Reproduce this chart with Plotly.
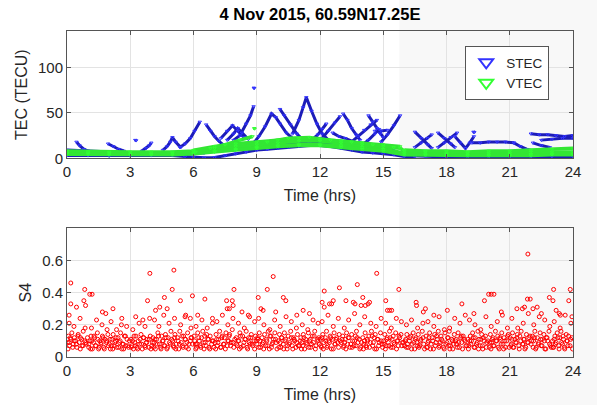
import plotly.graph_objects as go
from plotly.subplots import make_subplots

TITLE = "4 Nov 2015, 60.59N17.25E"
X_TICKS = [0, 3, 6, 9, 12, 15, 18, 21, 24]
TEC_TICKS = [0, 50, 100]
S4_TICKS = [0, 0.2, 0.4, 0.6]

# STEC passes (time in hrs, TECU)
STEC_ARCS = [
    [(0.0, 9), (0.5, 8.5), (1.0, 8), (1.5, 7), (2.0, 6.5), (2.5, 6), (3.0, 6), (3.5, 5.5), (4.0, 5.5), (4.5, 6), (5.0, 6.5), (5.5, 7)],
    [(0.0, 3), (1.0, 3), (2.0, 2.5), (3.0, 2.5), (4.0, 3), (5.0, 3), (5.6, 2), (6.0, 1), (6.5, 0.5), (7.0, 1), (7.5, 3), (8.0, 5), (8.5, 7), (9.0, 9), (9.5, 10)],
    [(6.0, 5), (6.5, 6), (7.0, 8), (7.5, 10), (8.0, 11), (8.5, 12), (9.0, 13), (9.5, 14), (10.0, 15), (10.5, 16), (11.0, 16), (11.5, 17), (12.0, 17), (12.5, 15), (13.0, 13)],
    [(9.5, 10), (10.0, 11), (10.5, 12), (11.0, 13), (11.5, 14), (12.0, 14), (12.5, 13), (13.0, 11), (13.5, 9), (14.0, 7), (14.5, 6), (15.0, 5), (15.5, 4), (16.0, 2), (16.5, 1.5)],
    [(12.5, 18), (13.0, 17), (13.5, 15), (14.0, 13), (14.5, 12), (15.0, 11), (15.5, 10)],
    [(16.0, 3), (17.0, 2), (18.0, 1.5), (19.0, 1.5), (20.0, 1.5), (21.0, 1.5), (22.0, 1.5), (23.0, 2), (24.0, 2)],
    [(16.0, 6), (17.0, 5), (18.0, 4), (19.0, 4), (20.0, 4), (21.0, 3.5), (22.0, 4), (23.0, 5), (24.0, 5)],
    [(0.45, 18), (0.6, 14), (0.8, 10), (1.0, 8)],
    [(1.95, 16), (2.2, 13), (2.45, 10), (2.7, 8)],
    [(3.24, 20), (3.28, 19.5)],
    [(3.55, 8), (3.75, 11), (3.9, 14), (4.0, 17)],
    [(4.55, 9), (4.75, 13), (4.9, 18), (5.0, 23), (5.15, 18), (5.4, 12)],
    [(5.35, 12), (5.6, 16), (5.85, 22), (6.05, 30), (6.3, 40)],
    [(6.6, 37), (6.8, 30), (7.0, 24), (7.2, 19), (7.4, 15)],
    [(7.3, 22), (7.6, 30), (7.85, 36), (8.1, 30), (8.4, 23)],
    [(7.6, 20), (7.9, 27), (8.1, 33), (8.3, 28), (8.6, 21)],
    [(7.9, 20), (8.2, 25), (8.5, 38), (8.7, 47), (8.85, 57)],
    [(8.86, 77.5), (8.88, 77)],
    [(8.9, 18), (9.1, 24), (9.4, 35), (9.7, 49), (9.9, 45), (10.1, 38), (10.4, 28), (10.8, 20)],
    [(10.1, 54), (10.3, 47), (10.6, 37), (10.9, 27), (11.2, 20)],
    [(10.7, 27), (11.0, 42), (11.2, 56), (11.35, 67), (11.6, 52), (11.85, 38), (12.1, 27), (12.4, 20)],
    [(11.6, 20), (11.9, 26), (12.1, 32), (12.3, 38)],
    [(12.1, 22), (12.4, 30), (12.7, 39), (12.95, 46)],
    [(13.1, 49), (13.3, 42), (13.5, 33), (13.7, 26), (13.9, 20)],
    [(12.6, 28), (12.9, 24), (13.2, 22), (13.6, 18)],
    [(13.5, 18), (13.8, 24), (14.1, 31), (14.4, 37), (14.7, 42)],
    [(14.3, 47), (14.5, 40), (14.7, 33), (14.85, 27), (15.0, 23)],
    [(14.0, 15), (14.3, 20), (14.6, 27), (14.8, 32)],
    [(14.9, 18), (15.2, 26), (15.5, 36), (15.8, 47)],
    [(14.6, 30), (14.9, 30), (15.2, 31)],
    [(16.5, 29), (16.8, 22), (17.1, 15), (17.3, 11)],
    [(16.5, 12), (16.8, 17), (17.1, 22), (17.3, 26)],
    [(17.6, 28), (17.9, 22), (18.2, 16), (18.4, 12)],
    [(17.6, 12), (17.9, 17), (18.2, 23), (18.5, 28)],
    [(18.4, 24), (18.65, 17), (18.9, 11), (19.1, 17), (19.3, 24)],
    [(19.28, 29), (19.32, 28.5)],
    [(19.2, 17), (19.6, 17), (20.0, 18), (20.4, 18), (20.8, 18), (21.2, 17)],
    [(21.2, 17), (21.5, 13), (21.8, 10), (22.1, 8)],
    [(22.1, 17), (22.5, 14), (22.9, 12)],
    [(22.0, 27), (22.4, 26), (22.8, 26), (23.2, 25), (23.6, 24), (24.0, 25)],
    [(22.5, 20), (23.0, 21), (23.5, 22), (24.0, 22)],
]

# VTEC passes (time in hrs, TECU)
VTEC_ARCS = [
    [(0, 6), (1, 6), (2, 5.5), (3, 5), (4, 5), (5, 5.5), (6, 6), (7, 8), (8, 10), (9, 12), (10, 14), (11, 15), (12, 15), (13, 14), (14, 12), (15, 10), (16, 6), (17, 5), (18, 4.5), (19, 4), (20, 4), (21, 4), (22, 4.5), (23, 5), (24, 5)],
    [(0, 8), (1, 7.5), (2, 7), (3, 7), (4, 7), (5, 7), (6, 8), (7, 11), (8, 13), (9, 15), (10, 17), (11, 19), (12, 19), (13, 17), (14, 15), (15, 13), (15.8, 11), (16, 8), (17, 7), (18, 6), (19, 6), (20, 6), (21, 6), (22, 7), (23, 7), (24, 7)],
    [(0, 4.5), (1, 4.5), (2, 4), (3, 4), (4, 4), (5, 4), (6, 5), (7, 7), (8, 9), (9, 11), (10, 13), (11, 14), (12, 14), (13, 12), (14, 10), (15, 8), (16, 4), (17, 3.5), (18, 3), (19, 3), (20, 3), (21, 3), (22, 3), (23, 4), (24, 4)],
    [(6, 9), (7, 13), (8, 16), (9, 18), (10, 20), (11, 22), (12, 21), (13, 19), (14, 17), (15, 15), (15.8, 13)],
    [(6.1, 7), (6.8, 11), (7.5, 15), (8.2, 20), (8.8, 24)],
    [(9.5, 18), (10.5, 22), (11.5, 23), (12.5, 20), (13.5, 18), (14.5, 15), (15.5, 12)],
    [(16, 9), (17, 8), (18, 8), (19, 7), (20, 8), (21, 8), (22, 9), (23, 10), (24, 11)],
    [(8.88, 33), (8.9, 32.5)],
]

# S4 index samples (time in hrs)
S4_TIME = [
    0.02, 0.07, 0.12, 0.18, 0.23, 0.29, 0.35, 0.41, 0.47, 0.53, 0.58, 0.64, 0.71, 0.77, 0.84, 0.91, 0.10, 0.33, 0.62, 0.86,
    1.03, 1.09, 1.14, 1.20, 1.26, 1.31, 1.37, 1.44, 1.50, 1.55, 1.61, 1.68, 1.74, 1.80, 1.87, 1.94, 1.16, 1.40, 1.66, 1.90,
    2.01, 2.06, 2.13, 2.19, 2.24, 2.30, 2.36, 2.42, 2.49, 2.54, 2.60, 2.67, 2.72, 2.79, 2.85, 2.92, 2.09, 2.35, 2.58, 2.83,
    3.03, 3.08, 3.15, 3.21, 3.27, 3.32, 3.38, 3.45, 3.51, 3.57, 3.62, 3.69, 3.75, 3.81, 3.88, 3.95, 3.12, 3.42, 3.70, 3.92,
    4.02, 4.08, 4.13, 4.19, 4.25, 4.31, 4.38, 4.43, 4.49, 4.56, 4.61, 4.67, 4.74, 4.80, 4.86, 4.93, 4.15, 4.36, 4.59, 4.84,
    5.01, 5.07, 5.12, 5.18, 5.24, 5.30, 5.35, 5.42, 5.48, 5.53, 5.60, 5.66, 5.72, 5.78, 5.85, 5.91, 5.10, 5.39, 5.63, 5.88,
    6.03, 6.09, 6.14, 6.20, 6.27, 6.32, 6.38, 6.44, 6.50, 6.55, 6.62, 6.68, 6.73, 6.79, 6.86, 6.93, 6.12, 6.40, 6.65, 6.90,
    7.02, 7.07, 7.13, 7.19, 7.24, 7.31, 7.36, 7.42, 7.47, 7.54, 7.60, 7.66, 7.71, 7.78, 7.84, 7.91, 7.11, 7.37, 7.63, 7.87,
    8.03, 8.08, 8.15, 8.20, 8.26, 8.33, 8.39, 8.44, 8.50, 8.57, 8.62, 8.69, 8.74, 8.81, 8.87, 8.94, 8.13, 8.41, 8.66, 8.90,
    9.01, 9.06, 9.12, 9.18, 9.25, 9.30, 9.37, 9.43, 9.48, 9.55, 9.60, 9.67, 9.73, 9.79, 9.86, 9.92, 9.09, 9.34, 9.62, 9.85,
    10.02, 10.08, 10.14, 10.19, 10.26, 10.31, 10.37, 10.44, 10.49, 10.56, 10.61, 10.68, 10.74, 10.80, 10.86, 10.93, 10.11, 10.39, 10.64, 10.88,
    11.03, 11.09, 11.14, 11.21, 11.27, 11.32, 11.38, 11.45, 11.51, 11.56, 11.63, 11.69, 11.75, 11.81, 11.88, 11.94, 11.16, 11.42, 11.67, 11.91,
    12.02, 12.07, 12.13, 12.18, 12.25, 12.31, 12.36, 12.42, 12.48, 12.54, 12.60, 12.67, 12.72, 12.79, 12.85, 12.91, 12.10, 12.38, 12.63, 12.87,
    13.01, 13.08, 13.13, 13.20, 13.26, 13.31, 13.38, 13.43, 13.50, 13.55, 13.61, 13.68, 13.73, 13.80, 13.86, 13.93, 13.15, 13.36, 13.64, 13.89,
    14.03, 14.08, 14.14, 14.21, 14.26, 14.32, 14.39, 14.44, 14.50, 14.57, 14.62, 14.68, 14.75, 14.81, 14.87, 14.94, 14.12, 14.41, 14.66, 14.90,
    15.02, 15.07, 15.13, 15.19, 15.24, 15.30, 15.36, 15.42, 15.47, 15.53, 15.59, 15.66, 15.71, 15.78, 15.84, 15.91, 15.11, 15.38, 15.62, 15.86,
    16.01, 16.07, 16.12, 16.18, 16.24, 16.31, 16.37, 16.42, 16.49, 16.55, 16.60, 16.66, 16.73, 16.79, 16.85, 16.92, 16.10, 16.34, 16.63, 16.88,
    17.03, 17.09, 17.14, 17.20, 17.27, 17.32, 17.38, 17.44, 17.50, 17.56, 17.61, 17.67, 17.74, 17.80, 17.86, 17.93, 17.12, 17.40, 17.65, 17.90,
    18.02, 18.08, 18.13, 18.19, 18.25, 18.30, 18.37, 18.43, 18.48, 18.55, 18.61, 18.67, 18.72, 18.79, 18.85, 18.92, 18.15, 18.39, 18.64, 18.89,
    19.01, 19.06, 19.13, 19.18, 19.24, 19.31, 19.36, 19.42, 19.49, 19.54, 19.60, 19.67, 19.72, 19.78, 19.85, 19.91, 19.09, 19.35, 19.62, 19.87,
    20.03, 20.08, 20.14, 20.20, 20.26, 20.32, 20.38, 20.43, 20.50, 20.56, 20.62, 20.68, 20.73, 20.80, 20.86, 20.93, 20.12, 20.41, 20.65, 20.89,
    21.02, 21.07, 21.13, 21.19, 21.25, 21.31, 21.36, 21.43, 21.48, 21.54, 21.61, 21.66, 21.72, 21.79, 21.84, 21.91, 21.10, 21.38, 21.64, 21.88,
    22.01, 22.08, 22.13, 22.19, 22.26, 22.31, 22.37, 22.44, 22.49, 22.55, 22.62, 22.67, 22.74, 22.80, 22.86, 22.93, 22.14, 22.40, 22.66, 22.90,
    23.03, 23.08, 23.14, 23.20, 23.25, 23.32, 23.37, 23.43, 23.50, 23.55, 23.61, 23.68, 23.73, 23.79, 23.86, 23.95, 23.11, 23.39, 23.63, 23.90,
]
S4_VALUE = [
    0.09, 0.13, 0.07, 0.11, 0.15, 0.08, 0.12, 0.10, 0.06, 0.14, 0.09, 0.12, 0.07, 0.16, 0.10, 0.08, 0.21, 0.19, 0.24, 0.18,
    0.06, 0.10, 0.13, 0.05, 0.09, 0.12, 0.07, 0.15, 0.05, 0.10, 0.08, 0.13, 0.06, 0.11, 0.09, 0.14, 0.18, 0.23, 0.20, 0.17,
    0.08, 0.05, 0.11, 0.14, 0.07, 0.10, 0.06, 0.12, 0.09, 0.15, 0.05, 0.08, 0.13, 0.07, 0.11, 0.06, 0.22, 0.17, 0.20, 0.19,
    0.11, 0.07, 0.05, 0.09, 0.13, 0.06, 0.10, 0.08, 0.14, 0.05, 0.12, 0.07, 0.09, 0.11, 0.06, 0.13, 0.17, 0.21, 0.19, 0.24,
    0.07, 0.12, 0.09, 0.05, 0.11, 0.15, 0.08, 0.06, 0.13, 0.10, 0.07, 0.14, 0.05, 0.12, 0.09, 0.16, 0.23, 0.19, 0.26, 0.21,
    0.10, 0.06, 0.14, 0.08, 0.12, 0.05, 0.16, 0.09, 0.07, 0.13, 0.11, 0.06, 0.15, 0.08, 0.10, 0.12, 0.24, 0.20, 0.26, 0.18,
    0.13, 0.08, 0.06, 0.15, 0.10, 0.07, 0.12, 0.16, 0.05, 0.09, 0.14, 0.11, 0.06, 0.13, 0.08, 0.10, 0.19, 0.23, 0.18, 0.21,
    0.09, 0.14, 0.07, 0.11, 0.16, 0.06, 0.13, 0.08, 0.12, 0.15, 0.07, 0.10, 0.14, 0.09, 0.17, 0.06, 0.22, 0.26, 0.20, 0.24,
    0.12, 0.07, 0.10, 0.15, 0.06, 0.13, 0.09, 0.11, 0.16, 0.05, 0.12, 0.08, 0.14, 0.07, 0.10, 0.13, 0.21, 0.18, 0.25, 0.22,
    0.08, 0.11, 0.15, 0.06, 0.12, 0.09, 0.14, 0.07, 0.10, 0.16, 0.05, 0.13, 0.08, 0.11, 0.15, 0.09, 0.24, 0.20, 0.17, 0.23,
    0.10, 0.14, 0.06, 0.12, 0.08, 0.15, 0.11, 0.05, 0.13, 0.09, 0.16, 0.07, 0.12, 0.10, 0.06, 0.14, 0.19, 0.25, 0.22, 0.18,
    0.07, 0.12, 0.09, 0.14, 0.05, 0.11, 0.08, 0.15, 0.10, 0.06, 0.13, 0.09, 0.16, 0.07, 0.11, 0.12, 0.20, 0.17, 0.23, 0.21,
    0.11, 0.06, 0.14, 0.09, 0.12, 0.16, 0.07, 0.10, 0.13, 0.05, 0.11, 0.15, 0.08, 0.12, 0.09, 0.14, 0.22, 0.26, 0.19, 0.24,
    0.09, 0.13, 0.07, 0.11, 0.15, 0.08, 0.12, 0.06, 0.14, 0.10, 0.07, 0.13, 0.16, 0.09, 0.11, 0.06, 0.18, 0.23, 0.27, 0.20,
    0.12, 0.08, 0.15, 0.06, 0.10, 0.13, 0.09, 0.16, 0.07, 0.12, 0.14, 0.05, 0.11, 0.09, 0.15, 0.08, 0.25, 0.21, 0.19, 0.24,
    0.10, 0.14, 0.07, 0.12, 0.09, 0.16, 0.06, 0.11, 0.13, 0.08, 0.15, 0.10, 0.07, 0.12, 0.14, 0.09, 0.21, 0.18, 0.24, 0.22,
    0.07, 0.11, 0.14, 0.06, 0.10, 0.13, 0.08, 0.15, 0.05, 0.12, 0.09, 0.14, 0.07, 0.11, 0.16, 0.08, 0.20, 0.23, 0.18, 0.21,
    0.13, 0.06, 0.10, 0.15, 0.08, 0.12, 0.05, 0.14, 0.09, 0.11, 0.16, 0.07, 0.13, 0.10, 0.06, 0.15, 0.22, 0.19, 0.25, 0.17,
    0.09, 0.12, 0.16, 0.07, 0.11, 0.05, 0.14, 0.10, 0.08, 0.15, 0.06, 0.12, 0.09, 0.13, 0.11, 0.07, 0.18, 0.24, 0.21, 0.26,
    0.11, 0.07, 0.13, 0.10, 0.15, 0.06, 0.12, 0.08, 0.16, 0.11, 0.07, 0.14, 0.05, 0.10, 0.13, 0.09, 0.23, 0.20, 0.17, 0.25,
    0.06, 0.14, 0.09, 0.12, 0.07, 0.16, 0.10, 0.13, 0.05, 0.11, 0.15, 0.08, 0.12, 0.06, 0.10, 0.14, 0.19, 0.22, 0.26, 0.18,
    0.12, 0.08, 0.15, 0.06, 0.11, 0.09, 0.14, 0.07, 0.13, 0.16, 0.08, 0.11, 0.05, 0.14, 0.09, 0.12, 0.24, 0.18, 0.21, 0.27,
    0.08, 0.13, 0.10, 0.16, 0.06, 0.12, 0.09, 0.15, 0.07, 0.11, 0.14, 0.05, 0.12, 0.10, 0.16, 0.07, 0.20, 0.25, 0.23, 0.19,
    0.10, 0.06, 0.13, 0.09, 0.15, 0.07, 0.12, 0.16, 0.08, 0.11, 0.05, 0.14, 0.10, 0.13, 0.07, 0.12, 0.22, 0.18, 0.26, 0.21,
]
# additional low-S4 samples filling the dense band
S4_LOW_TIME = [
    0.05, 0.10, 0.16, 0.27, 0.34, 0.45, 0.52, 0.63, 0.70, 0.76, 0.89, 0.97,
    1.04, 1.12, 1.18, 1.28, 1.35, 1.46, 1.53, 1.62, 1.71, 1.77, 1.88, 1.96,
    2.04, 2.11, 2.17, 2.27, 2.33, 2.45, 2.52, 2.63, 2.69, 2.77, 2.88, 2.96,
    3.05, 3.11, 3.18, 3.24, 3.35, 3.47, 3.54, 3.64, 3.72, 3.78, 3.90, 3.98,
    4.05, 4.11, 4.17, 4.28, 4.34, 4.46, 4.53, 4.64, 4.70, 4.77, 4.90, 4.97,
    5.04, 5.10, 5.16, 5.27, 5.33, 5.45, 5.51, 5.62, 5.69, 5.76, 5.88, 5.96,
    6.06, 6.11, 6.17, 6.25, 6.35, 6.47, 6.53, 6.60, 6.71, 6.77, 6.89, 6.97,
    7.05, 7.10, 7.16, 7.28, 7.34, 7.45, 7.51, 7.63, 7.69, 7.76, 7.88, 7.96,
    8.05, 8.12, 8.18, 8.23, 8.36, 8.47, 8.54, 8.64, 8.71, 8.78, 8.90, 8.97,
    9.04, 9.10, 9.15, 9.27, 9.33, 9.46, 9.52, 9.63, 9.70, 9.76, 9.89, 9.96,
    10.05, 10.11, 10.17, 10.28, 10.34, 10.46, 10.53, 10.64, 10.71, 10.77, 10.89, 10.97,
    11.06, 11.12, 11.18, 11.24, 11.35, 11.47, 11.54, 11.60, 11.72, 11.78, 11.90, 11.97,
    12.04, 12.10, 12.16, 12.27, 12.33, 12.45, 12.51, 12.63, 12.70, 12.76, 12.88, 12.96,
    13.05, 13.11, 13.17, 13.23, 13.34, 13.46, 13.53, 13.64, 13.71, 13.77, 13.89, 13.97,
    14.06, 14.11, 14.18, 14.24, 14.35, 14.47, 14.53, 14.60, 14.72, 14.78, 14.90, 14.97,
    15.04, 15.10, 15.16, 15.27, 15.33, 15.45, 15.50, 15.63, 15.69, 15.75, 15.88, 15.96,
    16.04, 16.10, 16.15, 16.27, 16.34, 16.45, 16.52, 16.63, 16.70, 16.76, 16.89, 16.96,
    17.06, 17.12, 17.17, 17.24, 17.35, 17.47, 17.53, 17.64, 17.71, 17.77, 17.89, 17.97,
    18.05, 18.11, 18.16, 18.28, 18.33, 18.46, 18.52, 18.58, 18.70, 18.76, 18.88, 18.96,
    19.04, 19.10, 19.16, 19.27, 19.34, 19.45, 19.52, 19.63, 19.70, 19.75, 19.89, 19.97,
    20.05, 20.11, 20.17, 20.23, 20.35, 20.46, 20.53, 20.59, 20.71, 20.77, 20.90, 20.97,
    21.05, 21.10, 21.16, 21.28, 21.34, 21.45, 21.52, 21.63, 21.69, 21.76, 21.88, 21.96,
    22.04, 22.11, 22.17, 22.23, 22.35, 22.47, 22.53, 22.64, 22.71, 22.77, 22.89, 22.97,
    23.05, 23.11, 23.17, 23.28, 23.34, 23.46, 23.53, 23.59, 23.71, 23.76, 23.89, 23.98,
]
S4_LOW_VALUE = [
    0.05, 0.09, 0.12, 0.06, 0.10, 0.08, 0.13, 0.05, 0.11, 0.07, 0.09, 0.12,
    0.08, 0.05, 0.10, 0.13, 0.07, 0.11, 0.06, 0.09, 0.12, 0.05, 0.10, 0.07,
    0.11, 0.07, 0.05, 0.09, 0.12, 0.06, 0.10, 0.08, 0.05, 0.13, 0.07, 0.10,
    0.06, 0.10, 0.13, 0.07, 0.05, 0.11, 0.08, 0.12, 0.06, 0.09, 0.11, 0.05,
    0.09, 0.06, 0.11, 0.08, 0.13, 0.05, 0.10, 0.07, 0.12, 0.06, 0.08, 0.11,
    0.07, 0.12, 0.05, 0.10, 0.08, 0.13, 0.06, 0.11, 0.09, 0.05, 0.12, 0.08,
    0.10, 0.05, 0.08, 0.12, 0.06, 0.09, 0.13, 0.07, 0.11, 0.05, 0.10, 0.06,
    0.05, 0.11, 0.09, 0.06, 0.12, 0.08, 0.05, 0.10, 0.13, 0.07, 0.09, 0.11,
    0.08, 0.10, 0.05, 0.13, 0.07, 0.11, 0.06, 0.09, 0.12, 0.08, 0.05, 0.10,
    0.12, 0.06, 0.10, 0.08, 0.05, 0.11, 0.07, 0.13, 0.06, 0.09, 0.11, 0.05,
    0.06, 0.09, 0.12, 0.05, 0.10, 0.07, 0.08, 0.12, 0.05, 0.11, 0.09, 0.07,
    0.10, 0.05, 0.07, 0.12, 0.09, 0.06, 0.11, 0.08, 0.13, 0.05, 0.10, 0.08,
    0.07, 0.12, 0.05, 0.10, 0.06, 0.09, 0.12, 0.05, 0.08, 0.11, 0.06, 0.10,
    0.11, 0.06, 0.09, 0.05, 0.12, 0.08, 0.06, 0.10, 0.07, 0.12, 0.05, 0.09,
    0.05, 0.10, 0.07, 0.11, 0.06, 0.13, 0.09, 0.05, 0.11, 0.07, 0.10, 0.06,
    0.08, 0.05, 0.11, 0.07, 0.12, 0.06, 0.09, 0.05, 0.10, 0.13, 0.07, 0.09,
    0.10, 0.06, 0.08, 0.12, 0.05, 0.09, 0.11, 0.07, 0.06, 0.10, 0.12, 0.05,
    0.06, 0.09, 0.12, 0.05, 0.10, 0.07, 0.13, 0.06, 0.09, 0.11, 0.05, 0.08,
    0.12, 0.07, 0.05, 0.10, 0.08, 0.11, 0.06, 0.09, 0.13, 0.05, 0.10, 0.07,
    0.05, 0.10, 0.08, 0.12, 0.06, 0.09, 0.05, 0.11, 0.07, 0.12, 0.06, 0.10,
    0.09, 0.05, 0.11, 0.07, 0.10, 0.06, 0.12, 0.08, 0.05, 0.10, 0.13, 0.06,
    0.07, 0.11, 0.06, 0.09, 0.12, 0.05, 0.10, 0.08, 0.11, 0.06, 0.09, 0.13,
    0.10, 0.06, 0.12, 0.05, 0.08, 0.11, 0.07, 0.10, 0.05, 0.12, 0.08, 0.06,
    0.06, 0.11, 0.08, 0.12, 0.05, 0.09, 0.13, 0.06, 0.10, 0.07, 0.11, 0.05,
]
# higher S4 samples
S4_HIGH_TIME = [
    0.18, 0.18, 0.10, 0.84, 1.08, 1.19, 0.45, 0.80, 0.88, 1.68, 1.84, 2.18, 3.26, 3.60, 3.93, 3.82, 4.62, 4.99, 5.07, 5.38,
    5.95, 6.54, 6.90, 5.60, 5.85, 7.57, 7.84, 7.92, 7.88, 7.60, 7.70, 9.07, 9.20, 9.30, 9.50, 9.78, 10.26, 10.38, 9.90, 12.20,
    12.10, 12.20, 12.63, 12.92, 13.23, 12.45, 12.55, 13.58, 13.66, 13.77, 14.03, 13.95, 14.15, 14.28, 14.35, 14.69, 15.12, 15.20, 15.30, 15.40,
    15.74, 16.56, 16.58, 17.00, 18.04, 18.73, 19.80, 20.00, 20.12, 20.25, 21.34, 21.60, 21.70, 21.86, 21.84, 21.97, 22.10, 22.30, 23.20, 23.35,
    23.40, 22.88, 23.08, 23.05, 23.80, 23.87, 23.95, 11.50, 10.90, 2.60, 4.20, 4.40, 4.75, 6.20, 8.30, 8.60, 11.20, 16.90, 17.40, 19.30,
    20.60, 22.50,
]
S4_HIGH_VALUE = [
    0.46, 0.33, 0.26, 0.42, 0.39, 0.39, 0.31, 0.35, 0.32, 0.28, 0.27, 0.30, 0.25, 0.23, 0.52, 0.35, 0.37, 0.42, 0.54, 0.35,
    0.38, 0.36, 0.24, 0.25, 0.24, 0.35, 0.35, 0.42, 0.32, 0.30, 0.30, 0.37, 0.30, 0.29, 0.42, 0.50, 0.37, 0.35, 0.28, 0.41,
    0.34, 0.31, 0.35, 0.43, 0.35, 0.33, 0.33, 0.34, 0.33, 0.45, 0.37, 0.32, 0.32, 0.33, 0.34, 0.52, 0.35, 0.29, 0.29, 0.29,
    0.42, 0.34, 0.32, 0.30, 0.29, 0.33, 0.35, 0.39, 0.39, 0.39, 0.30, 0.30, 0.31, 0.64, 0.36, 0.36, 0.30, 0.31, 0.29, 0.27,
    0.26, 0.37, 0.42, 0.35, 0.35, 0.42, 0.25, 0.27, 0.26, 0.24, 0.29, 0.31, 0.30, 0.26, 0.28, 0.26, 0.29, 0.28, 0.26, 0.27,
    0.28, 0.27,
]


def join_arcs(arcs):
    xs, ys = [], []
    for arc in arcs:
        for t, v in arc:
            xs.append(t)
            ys.append(v)
        xs.append(None)
        ys.append(None)
    return xs, ys


BLUE = "#1c1cb8"
GREEN = "#33e633"
FONT = "Liberation Sans, Arial, sans-serif"
TXT = "#262626"

fig = make_subplots(rows=2, cols=1, vertical_spacing=0.0)

sx, sy = join_arcs(STEC_ARCS)
vx, vy = join_arcs(VTEC_ARCS)

fig.add_trace(go.Scatter(x=sx, y=sy, mode="lines", line=dict(color=BLUE, width=3),
                         showlegend=False, hoverinfo="skip"), row=1, col=1)
fig.add_trace(go.Scatter(x=sx, y=sy, mode="markers", name="STEC",
                         marker=dict(symbol="triangle-down-open", size=3, color="#3333ff",
                                     line=dict(width=1, color="#3333ff"))), row=1, col=1)
fig.add_trace(go.Scatter(x=vx, y=vy, mode="lines", line=dict(color=GREEN, width=3.5),
                         showlegend=False, hoverinfo="skip"), row=1, col=1)
fig.add_trace(go.Scatter(x=vx, y=vy, mode="markers", name="VTEC",
                         marker=dict(symbol="triangle-down-open", size=3, color="#33ff33",
                                     line=dict(width=1, color="#33ff33"))), row=1, col=1)

fig.add_trace(go.Scatter(x=S4_TIME + S4_LOW_TIME + S4_HIGH_TIME,
                         y=S4_VALUE + S4_LOW_VALUE + S4_HIGH_VALUE, mode="markers",
                         showlegend=False, name="S4",
                         marker=dict(symbol="circle-open", size=4, color="#ff0000",
                                     line=dict(width=1, color="#ff0000"))), row=2, col=1)

axis_common = dict(
    showgrid=True, gridcolor="#e3e3e3", gridwidth=1,
    showline=True, linecolor="#555555", linewidth=1, mirror="ticks",
    ticks="inside", ticklen=4, tickcolor="#555555",
    tickfont=dict(family=FONT, size=15, color=TXT),
    zeroline=False, automargin=False,
)

TITLE_FONT = dict(family=FONT, size=16, color=TXT)
fig.update_xaxes(range=[0, 24], tickvals=X_TICKS, **axis_common)
fig.update_xaxes(title=dict(text="Time (hrs)", font=TITLE_FONT, standoff=10), row=1, col=1)
fig.update_xaxes(title=dict(text="Time (hrs)", font=TITLE_FONT, standoff=10), row=2, col=1)
fig.update_yaxes(range=[0, 140], tickvals=TEC_TICKS, row=1, col=1,
                 title=dict(text="TEC (TECU)", font=TITLE_FONT, standoff=6),
                 **axis_common)
fig.update_yaxes(range=[0, 0.8], tickvals=S4_TICKS, row=2, col=1,
                 title=dict(text="S4", font=TITLE_FONT, standoff=6),
                 **axis_common)

fig.update_layout(
    xaxis=dict(domain=[0, 1]), xaxis2=dict(domain=[0, 1]),
    yaxis=dict(domain=[0.6095, 1.0]), yaxis2=dict(domain=[0.0, 0.3948]),
)

fig.add_shape(type="rect", xref="paper", yref="paper", x0=0.6567, x1=1.2, y0=-0.3, y1=1.3,
              fillcolor="#f8f8f8", line=dict(width=0), layer="below")

fig.update_layout(
    width=597, height=405,
    margin=dict(l=67, r=24, t=31, b=48),
    paper_bgcolor="white", plot_bgcolor="white",
    font=dict(family=FONT, color=TXT),
    title=dict(text="<b>" + TITLE + "</b>", x=0.5, xref="paper", y=0.965, yanchor="middle",
               font=dict(family=FONT, size=16.5, color="#000000")),
    legend=dict(x=0.953, y=0.954, xanchor="right", yanchor="top",
                bgcolor="white", bordercolor="#555555", borderwidth=1,
                font=dict(family=FONT, size=13.5, color=TXT), itemsizing="constant",
                tracegroupgap=0),
    showlegend=True,
)

fig.write_html("out.html", config={"displayModeBar": False},
               post_script="document.body.style.margin='0px';")
